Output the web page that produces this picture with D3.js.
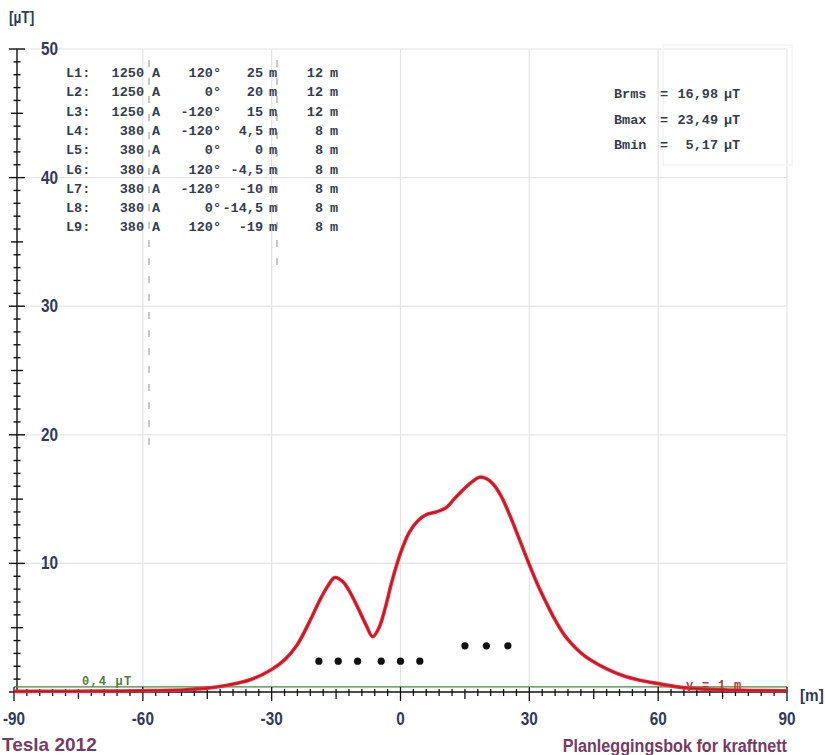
<!DOCTYPE html>
<html>
<head>
<meta charset="utf-8">
<script src="https://cdn.jsdelivr.net/npm/d3@7"></script>
<style>
  html, body { margin: 0; padding: 0; background: #ffffff; }
  svg { display: block; }
</style>
</head>
<body>
<svg id="chart" width="825" height="755"></svg>
<script>
// Magnetic field profile across the corridor, distance [m] vs field [µT]
const profileX = [-90, -80, -70, -60, -50, -45, -40, -35, -30, -27, -24, -21, -19, -17, -15.3, -13.5, -12, -10, -8, -6.5, -5, -3.5, -2, 0, 2, 4, 6, 8.3, 10.5, 12.5, 14.5, 16.5, 18.4, 20, 21.5, 23.5, 25.5, 28, 30, 32, 34, 36, 38, 40, 42, 44, 48, 52, 56, 60, 64, 68, 75, 82, 90];
const profileB = [0.05, 0.06, 0.07, 0.1, 0.18, 0.3, 0.55, 0.95, 1.75, 2.5, 3.7, 5.6, 7.0, 8.2, 8.9, 8.6, 7.9, 6.6, 5.2, 4.3, 5.0, 6.6, 8.6, 10.8, 12.4, 13.3, 13.8, 14.0, 14.3, 15.0, 15.7, 16.3, 16.7, 16.6, 16.2, 15.2, 13.7, 11.6, 9.9, 8.3, 6.9, 5.6, 4.5, 3.7, 3.05, 2.55, 1.8, 1.25, 0.9, 0.65, 0.42, 0.28, 0.17, 0.12, 0.1];

// Conductor table
const lineNames = ["L1", "L2", "L3", "L4", "L5", "L6", "L7", "L8", "L9"];
const lineCurrents = [1250, 1250, 1250, 380, 380, 380, 380, 380, 380];
const linePhases = [120, 0, -120, -120, 0, 120, -120, 0, 120];
const linePositions = [25, 20, 15, 4.5, 0, -4.5, -10, -14.5, -19];
const lineHeights = [12, 12, 12, 8, 8, 8, 8, 8, 8];

// Summary values
const summaryLabels = ["Brms", "Bmax", "Bmin"];
const summaryValues = [16.98, 23.49, 5.17];

// Axis ticks
const xTickLabels = [-90, -60, -30, 0, 30, 60, 90];
const yTickLabels = [10, 20, 30, 40, 50];
const limitValue = 0.4;      // µT reference line
const calcHeight = 1;        // m above ground

const svg = d3.select("#chart");
const comma = v => String(v).replace(".", ",");
const fmt2 = v => v.toFixed(2).replace(".", ",");

const x = d3.scaleLinear().domain([-90, 90]).range([14, 787]);
const y = d3.scaleLinear().domain([0, 50]).range([692, 49]);
// conductor heights drawn on their own scale along the same baseline
const h = d3.scaleLinear().domain([0, 167]).range([692, 49]);

const axisX = 17;
const navy = "#2f3a58";
const tableInk = "#353d4b";
const sans = "'Liberation Sans', Arial, sans-serif";
const mono = "'Liberation Mono', 'DejaVu Sans Mono', monospace";

// condensed sans text: horizontally squeezed around its anchor point
function narrowText(sel, px, py, txt, size, anchor, fill, squeeze) {
  return sel.append("text")
    .attr("transform", `translate(${px},${py}) scale(${squeeze},1)`)
    .attr("text-anchor", anchor)
    .attr("font-family", sans).attr("font-size", size).attr("font-weight", "bold")
    .attr("fill", fill).text(txt);
}

// Grid
const grid = svg.append("g").attr("stroke", "#e4e4e4").attr("stroke-width", 1.2);
grid.selectAll("line.v").data(xTickLabels.filter(d => d > -90)).join("line")
  .attr("x1", d => x(d)).attr("x2", d => x(d))
  .attr("y1", y(50)).attr("y2", y(0));
grid.selectAll("line.h").data(yTickLabels).join("line")
  .attr("x1", axisX).attr("x2", x(90))
  .attr("y1", d => y(d)).attr("y2", d => y(d));

// Faint frame round the summary block
svg.append("rect").attr("x", 663).attr("y", 45).attr("width", 129).attr("height", 120)
  .attr("fill", "none").attr("stroke", "#f4f4f4").attr("stroke-width", 1.5);

// Y axis with minor ticks every 1 µT
const yAxis = svg.append("g").attr("stroke", "#111").attr("stroke-width", 1.4);
yAxis.append("line").attr("x1", axisX).attr("x2", axisX).attr("y1", y(50)).attr("y2", y(0));
yAxis.selectAll("line.t").data(d3.range(0, 51)).join("line")
  .attr("x1", d => axisX - (d % 10 === 0 ? 8 : d % 5 === 0 ? 6 : 3.5))
  .attr("x2", d => axisX + (d % 10 === 0 ? 8 : d % 5 === 0 ? 6 : 3.5))
  .attr("y1", d => y(d)).attr("y2", d => y(d));

const yLab = svg.append("g");
yTickLabels.forEach(d => narrowText(yLab, 41, y(d) + 6, d, 18, "start", navy, 0.85));

narrowText(svg, 9, 23, "[µT]", 16, "start", navy, 0.85);

// Field limit reference line
svg.append("line").attr("x1", x(-90)).attr("x2", x(90))
  .attr("y1", y(limitValue)).attr("y2", y(limitValue))
  .attr("stroke", "#3f8a3c").attr("stroke-width", 1.2);

// X axis with ticks every 3 m
const xAxis = svg.append("g").attr("stroke", "#111").attr("stroke-width", 1.3);
xAxis.append("line").attr("x1", x(-90)).attr("x2", x(90)).attr("y1", y(0)).attr("y2", y(0));
xAxis.selectAll("line.t").data(d3.range(-90, 91, 3)).join("line")
  .attr("x1", d => x(d)).attr("x2", d => x(d))
  .attr("y1", d => y(0) - (d % 30 === 0 ? 5 : 3))
  .attr("y2", d => y(0) + (d % 30 === 0 ? 9 : d % 15 === 0 ? 7 : 4));

const xLab = svg.append("g");
xTickLabels.forEach(d => narrowText(xLab, x(d), 725, d, 18, "middle", navy, 0.85));

narrowText(svg, 800, 701, "[m]", 17, "start", navy, 0.9);

// Field profile
const line = d3.line().x((d, i) => x(profileX[i])).y(d => y(d)).curve(d3.curveCatmullRom.alpha(0.5));
svg.append("path").attr("d", line(profileB))
  .attr("fill", "none").attr("stroke", "#ee2a2e").attr("stroke-width", 3.6)
  .attr("stroke-linejoin", "round");
svg.append("path").attr("d", line(profileB))
  .attr("fill", "none").attr("stroke", "#c0122c").attr("stroke-width", 1.4)
  .attr("stroke-linejoin", "round");

// Conductor positions
svg.append("g").selectAll("circle").data(linePositions).join("circle")
  .attr("cx", d => x(d)).attr("cy", (d, i) => h(lineHeights[i]))
  .attr("r", 3.6).attr("fill", "#111");

// Reference line labels
svg.append("text").attr("x", 82).attr("y", 685)
  .attr("font-family", mono).attr("font-size", 12).attr("font-weight", "bold")
  .attr("fill", "#4f7f3e").attr("letter-spacing", 1.2)
  .text(comma(limitValue) + " µT");
svg.append("text").attr("x", 686).attr("y", 689)
  .attr("font-family", mono).attr("font-size", 12).attr("font-weight", "bold")
  .attr("fill", "#c0392b").attr("letter-spacing", 0.8)
  .text("y = " + calcHeight + " m");

// Conductor table
const table = svg.append("g").attr("font-family", mono).attr("font-size", 13.5)
  .attr("font-weight", "bold").attr("fill", tableInk);
const rowY = i => 77 + i * 19.3;
// column separators
table.append("line").attr("x1", 149).attr("x2", 149).attr("y1", 60).attr("y2", 445)
  .attr("stroke", "#666").attr("stroke-width", 1).attr("stroke-dasharray", "7,11").attr("opacity", 0.7);
table.append("line").attr("x1", 277).attr("x2", 277).attr("y1", 60).attr("y2", 265)
  .attr("stroke", "#666").attr("stroke-width", 1).attr("stroke-dasharray", "7,11").attr("opacity", 0.7);

lineNames.forEach((name, i) => {
  const ry = rowY(i);
  table.append("text").attr("x", 66).attr("y", ry).text(name + ":");
  table.append("text").attr("x", 144).attr("y", ry).attr("text-anchor", "end").text(lineCurrents[i]);
  table.append("text").attr("x", 152).attr("y", ry).text("A");
  table.append("text").attr("x", 221).attr("y", ry).attr("text-anchor", "end").text(linePhases[i] + "°");
  table.append("text").attr("x", 263).attr("y", ry).attr("text-anchor", "end").text(comma(linePositions[i]));
  table.append("text").attr("x", 269).attr("y", ry).text("m");
  table.append("text").attr("x", 323).attr("y", ry).attr("text-anchor", "end").text(lineHeights[i]);
  table.append("text").attr("x", 330).attr("y", ry).text("m");
});

// Summary block
const summary = svg.append("g").attr("font-family", mono).attr("font-size", 13.5)
  .attr("font-weight", "bold").attr("fill", tableInk);
summaryLabels.forEach((lab, i) => {
  const ry = 98 + i * 25.5;
  summary.append("text").attr("x", 614).attr("y", ry).text(lab);
  summary.append("text").attr("x", 660).attr("y", ry).text("=");
  summary.append("text").attr("x", 718).attr("y", ry).attr("text-anchor", "end").text(fmt2(summaryValues[i]));
  summary.append("text").attr("x", 724).attr("y", ry).text("µT");
});

// Footer
narrowText(svg, 2, 751, "Tesla 2012", 19, "start", "#7a3963", 1.0);
narrowText(svg, 787, 752, "Planleggingsbok for kraftnett", 19, "end", "#7a3963", 0.85);
</script>
</body>
</html>
